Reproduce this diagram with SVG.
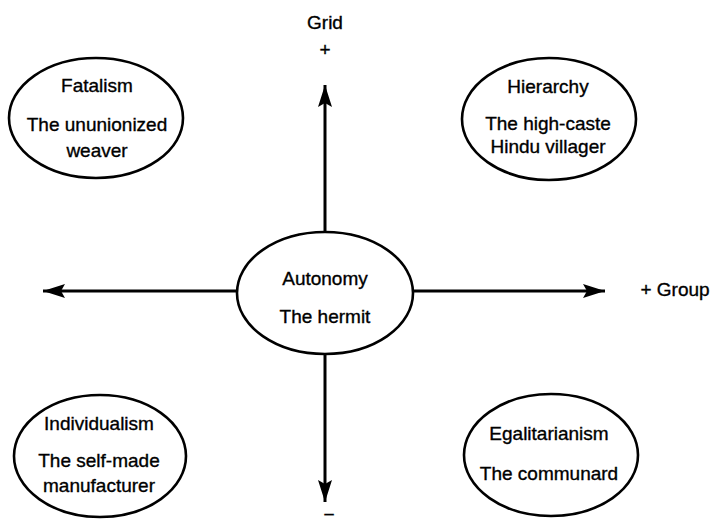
<svg xmlns="http://www.w3.org/2000/svg" width="717" height="525" viewBox="0 0 717 525">
<style>
  .node ellipse { fill: #ffffff; stroke: #000000; stroke-width: 2.6; }
  text { font-family: "Liberation Sans", Arial, sans-serif; font-size: 19px; fill: #000000; stroke: #000000; stroke-width: 0.35; text-anchor: middle; }
  .axis { stroke: #000000; stroke-width: 3; fill: none; }
</style>
<defs>
  <marker id="arrow" markerUnits="userSpaceOnUse" markerWidth="24" markerHeight="14" refX="22" refY="7" orient="auto">
    <path d="M0,0 L22,7 L0,14 L4,7 Z" fill="#000000"/>
  </marker>
</defs>
<rect width="717" height="525" fill="#ffffff"/>

<g id="connectors">
  <line class="axis" x1="325" y1="232" x2="325" y2="85" marker-end="url(#arrow)"/>
  <line class="axis" x1="325" y1="354" x2="325" y2="502" marker-end="url(#arrow)"/>
  <line class="axis" x1="237" y1="291" x2="43" y2="291" marker-end="url(#arrow)"/>
  <line class="axis" x1="413" y1="291" x2="605" y2="291" marker-end="url(#arrow)"/>
</g>

<g id="axis-labels">
  <text x="325" y="29">Grid</text>
  <text x="325" y="56">+</text>
  <text x="675" y="296">+  Group</text>
  <text x="329" y="521">−</text>
</g>

<g id="autonomy" class="node">
  <ellipse cx="325" cy="293" rx="88" ry="61"/>
  <text x="325" y="285">Autonomy</text>
  <text x="325" y="323">The hermit</text>
</g>

<g id="fatalism" class="node">
  <ellipse cx="96" cy="118" rx="87" ry="60"/>
  <text x="97" y="92">Fatalism</text>
  <text x="97" y="131">The ununionized</text>
  <text x="97" y="157">weaver</text>
</g>

<g id="hierarchy" class="node">
  <ellipse cx="549" cy="119" rx="87" ry="61"/>
  <text x="548" y="93">Hierarchy</text>
  <text x="548" y="130">The high-caste</text>
  <text x="548" y="153">Hindu villager</text>
</g>

<g id="individualism" class="node">
  <ellipse cx="100" cy="456" rx="86" ry="61"/>
  <text x="99" y="430">Individualism</text>
  <text x="99" y="467">The self-made</text>
  <text x="99" y="492">manufacturer</text>
</g>

<g id="egalitarianism" class="node">
  <ellipse cx="551" cy="455" rx="87" ry="61"/>
  <text x="549" y="440">Egalitarianism</text>
  <text x="549" y="480">The communard</text>
</g>
</svg>
